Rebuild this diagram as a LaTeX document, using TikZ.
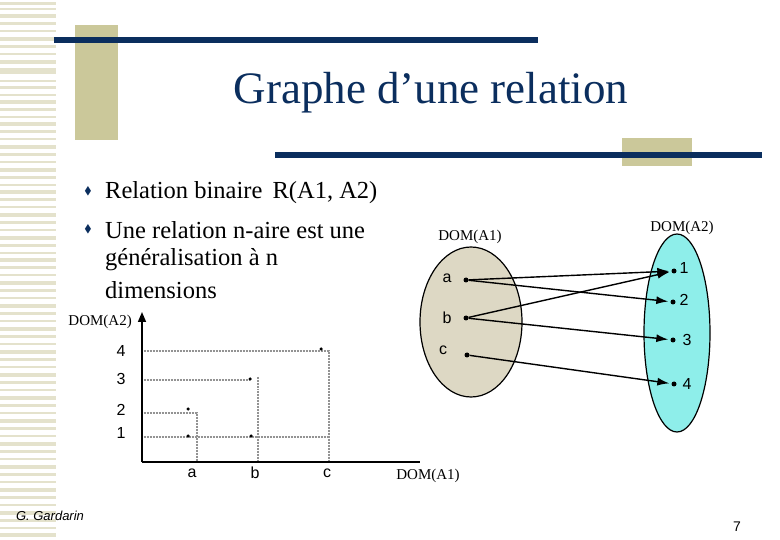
\documentclass[tikz,border=0pt]{standalone}
\usepackage{amssymb}
\usepackage{fontspec}
\setmainfont{Liberation Serif}
\newfontfamily\arialf{Liberation Sans}
\usetikzlibrary{arrows.meta}
\definecolor{navy}{HTML}{0B2E5E}
\definecolor{khaki}{HTML}{CBC89A}
\definecolor{pale}{HTML}{E4E2CC}
\definecolor{tan}{HTML}{DDD8C4}
\definecolor{cyanf}{HTML}{8EEEEA}
\tikzset{
 dotln/.style={draw=gray!85, line width=2.5pt, dash pattern=on 1pt off 0.5pt},
 pt/.style={circle, fill=black, inner sep=0pt, minimum size=5pt},
 lbl/.style={font=\arialf\fontsize{16}{16}\selectfont, inner sep=0pt},
 dom/.style={font=\fontsize{15}{15}\selectfont, inner sep=0pt},
 arr/.style={-{Latex[length=12pt,width=8pt]}, line width=1.4pt, shorten >=2pt},
}
\begin{document}
\begin{tikzpicture}[x=1pt,y=-1pt]
\useasboundingbox (0,0) rectangle (780,540);
\fill[white] (0,0) rectangle (780,540);
% stripes
\foreach \y/\h in {2/3,8/2,14/4,22/3,30/2,37/4,45/3,53/2,60/4,68/6,80/2,86/3,94/2,100/4,108/3,116/2,122/4,130/3,138/2,145/4,153/3,161/2,168/4,176/3,184/2,190/4,198/3,206/2,213/4,221/3,229/2,236/4,244/3,252/2,258/4,266/3,274/2,281/4,289/3,297/2,304/4,312/3,320/2,327/4,335/3,343/2,350/4,358/3,366/2,373/4,381/3,389/2,396/4,404/3,412/2,419/4,427/3,435/2,442/4,450/3,458/2,465/4,473/3,481/2,488/4,496/3,504/2,511/4,519/3,527/2,533/4}
  \fill[pale] (0,\y) rectangle (56,\y+\h);
\fill[khaki] (75,25) rectangle (118,140);
\fill[khaki] (622,138) rectangle (692,166);
\fill[navy] (54,37) rectangle (538,43);
\fill[navy] (275,152) rectangle (762,158);
\node[font=\fontsize{45}{45}\selectfont, text=navy, inner sep=0pt] (title) at (431,93) {Graphe d{\char"27}une relation};
% bullets
\node[navy, font=\fontsize{11}{11}\selectfont] (b1) at (88,191) {$\blacklozenge$};
\node[navy, font=\fontsize{11}{11}\selectfont] (b2) at (88,229) {$\blacklozenge$};
\begin{scope}[font=\fontsize{24.5}{24.5}\selectfont]
\node[anchor=west, inner sep=0pt] (t1) at (105,193) {Relation binaire\, R(A1, A2)};
\node[anchor=west, inner sep=0pt] (t2) at (105,230) {Une relation n-aire est une};
\node[anchor=west, inner sep=0pt] (t3) at (105,260) {généralisation à n};
\node[anchor=west, inner sep=0pt] (t4) at (105,290) {dimensions};
\end{scope}
% graph
\draw[dotln] (142,351) -- (329,351) -- (329,462);
\draw[dotln] (142,380) -- (250,380);
\draw[dotln] (258,377) -- (258,462);
\draw[dotln] (142,413) -- (197,413) -- (197,462);
\draw[dotln] (142,437) -- (328,437);
\coordinate (o) at (142,462);
\coordinate (ytop) at (142,312);
\coordinate (xend) at (420,462);
\draw[line width=1.6pt, -{Triangle[length=10pt,width=8pt]}] (o) -- (ytop);
\draw[line width=1.6pt] (o) -- (xend);
\node[dom, anchor=east] (ylab) at (132,322) {DOM(A2)};
\node[dom] (xlab) at (428,476) {DOM(A1)};
\foreach \v/\y in {4/351,3/379,2/410,1/433} \node[lbl] (y\v) at (121,\y) {\v};
\foreach \v/\x in {a/192,b/255,c/327} \node[lbl] (x\v) at (\x,473) {\v};
\foreach \x/\y [count=\i] in {188/409,188/436,250/379,251/436,321/349} \node[pt, minimum size=3.5pt] (g\i) at (\x,\y) {};
% ellipses
\draw[fill=tan, line width=1.2pt] (471,322) ellipse [x radius=51, y radius=75];
\draw[fill=cyanf, line width=1.2pt] (677,333) ellipse [x radius=33, y radius=99];
\node[dom] (d1) at (470,237) {DOM(A1)};
\node[dom] (d2) at (682,228) {DOM(A2)};
\node[pt] (a) at (466,280) {};
\node[pt] (b) at (466,318) {};
\node[pt] (c) at (467,355) {};
\node[lbl] (la) at (447,278) {a};
\node[lbl] (lb) at (447,318) {b};
\node[lbl] (lc) at (443,350) {c};
\node[pt] (r1) at (674,271) {};
\node[pt] (r2) at (673,302) {};
\node[pt] (r3) at (673,340) {};
\node[pt] (r4) at (674,384) {};
\node[lbl] (l1) at (684,268) {1};
\node[lbl] (l2) at (684,300) {2};
\node[lbl] (l3) at (687,340) {3};
\node[lbl] (l4) at (687,384) {4};
\draw[arr] (a) -- (r1);
\draw[arr] (a) -- (r2);
\draw[arr] (b) -- (r1);
\draw[arr] (b) -- (r3);
\draw[arr] (c) -- (r4);
\node[font=\arialf\itshape\fontsize{13}{13}\selectfont] (auth) at (50,516) {G. Gardarin};
\node[font=\arialf\fontsize{14}{14}\selectfont] (pg) at (737,527) {7};
\end{tikzpicture}
\end{document}
